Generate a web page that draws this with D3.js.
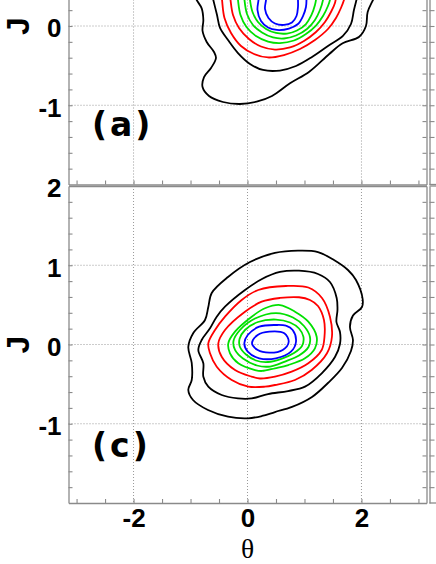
<!DOCTYPE html>
<html>
<head>
<meta charset="utf-8">
<script src="https://cdn.jsdelivr.net/npm/d3@7"></script>
<style>
  body { margin: 0; background: #fff; }
  svg { display: block; }
</style>
</head>
<body>
<div id="chart"></div>
<script>
// contour levels, outside in: 2 black, 2 red, 3 green, 2 blue
const levelColors = ['#000', '#000', '#f00', '#f00', '#00e000', '#00e000', '#00e000', '#00f', '#00f'];
const thetaLabels = [-2, 0, 2];
const jLabels = [-1, 0, 1, 2];
const gridTheta = [-2, 0, 2];
const gridJ = [-1, 0, 1];

// panel (a): only its lower half is in view, so the lines run out through the top
const aBlack1 = [[-0.956, 0.454], [-0.891, 0.328], [-0.804, 0.223], [-0.775, 0.076], [-0.789, -0.063], [-0.716, -0.202],
  [-0.588, -0.328], [-0.553, -0.404], [-0.640, -0.530], [-0.763, -0.644], [-0.789, -0.770], [-0.675, -0.883],
  [-0.430, -0.959], [-0.132, -0.984], [0.161, -0.955], [0.430, -0.883], [0.746, -0.723], [1.084, -0.577],
  [1.435, -0.353], [1.670, -0.218], [1.961, -0.135], [2.079, 0.000], [2.109, 0.177], [2.202, 0.328], [2.289, 0.454]];
const aBlack2 = [[-0.640, 0.454], [-0.600, 0.328], [-0.535, 0.139], [-0.482, -0.025], [-0.342, -0.177], [-0.167, -0.341],
  [0.044, -0.479], [0.272, -0.555], [0.570, -0.562], [0.851, -0.505], [1.132, -0.391], [1.412, -0.252],
  [1.675, -0.126], [1.816, 0.025], [1.868, 0.202], [1.921, 0.353], [1.956, 0.454]];
const aRed1 = [[-0.465, 0.454], [-0.447, 0.328], [-0.404, 0.101], [-0.289, -0.088], [-0.114, -0.252], [0.114, -0.353],
  [0.360, -0.397], [0.640, -0.366], [0.921, -0.290], [1.184, -0.177], [1.412, -0.038], [1.553, 0.101],
  [1.640, 0.227], [1.693, 0.328], [1.728, 0.454]];
const aRed2 = [[-0.316, 0.454], [-0.298, 0.328], [-0.254, 0.139], [-0.149, -0.025], [0.026, -0.164], [0.237, -0.259],
  [0.482, -0.297], [0.746, -0.271], [0.991, -0.189], [1.202, -0.076], [1.360, 0.050], [1.465, 0.177],
  [1.535, 0.290], [1.570, 0.454]];
const aGreen1 = [[-0.184, 0.454], [-0.167, 0.328], [-0.123, 0.139], [-0.018, -0.013], [0.149, -0.126], [0.360, -0.196],
  [0.570, -0.215], [0.816, -0.183], [1.026, -0.101], [1.202, 0.006], [1.325, 0.126], [1.412, 0.252],
  [1.447, 0.328], [1.465, 0.454]];
const aGreen2 = [[-0.061, 0.454], [-0.053, 0.328], [-0.009, 0.151], [0.096, 0.013], [0.254, -0.082], [0.447, -0.145],
  [0.640, -0.158], [0.851, -0.120], [1.044, -0.038], [1.184, 0.076], [1.272, 0.202], [1.325, 0.328], [1.342, 0.454]];
const aGreen3 = [[0.035, 0.454], [0.044, 0.328], [0.088, 0.177], [0.184, 0.050], [0.325, -0.038], [0.500, -0.088],
  [0.693, -0.095], [0.868, -0.057], [1.026, 0.025], [1.123, 0.139], [1.184, 0.265], [1.202, 0.328], [1.211, 0.454]];
const aBlue1 = [[0.202, 0.454], [0.193, 0.328], [0.175, 0.202], [0.237, 0.063], [0.360, -0.019], [0.518, -0.050],
  [0.728, -0.032], [0.886, 0.025], [0.974, 0.126], [1.026, 0.240], [1.035, 0.328], [1.026, 0.454]];
const aBlue2 = [[0.333, 0.454], [0.325, 0.328], [0.307, 0.215], [0.368, 0.101], [0.482, 0.032], [0.640, 0.013],
  [0.781, 0.044], [0.860, 0.126], [0.886, 0.240], [0.886, 0.328], [0.877, 0.454]];

// panel (c): closed contours
const cBlack1 = [[0.886, 1.184], [1.237, 1.167], [1.518, 1.066], [1.763, 0.940], [1.904, 0.814], [2.021, 0.574],
  [2.009, 0.473], [1.851, 0.366], [1.798, 0.221], [1.851, 0.057], [1.816, -0.082], [1.658, -0.297],
  [1.412, -0.486], [1.132, -0.662], [0.781, -0.788], [0.482, -0.852], [0.254, -0.902], [0.009, -0.931],
  [-0.342, -0.911], [-0.693, -0.826], [-0.956, -0.700], [-1.039, -0.574], [-0.979, -0.448], [-0.979, -0.233],
  [-1.039, -0.032], [-0.951, 0.145], [-0.746, 0.309], [-0.688, 0.473], [-0.628, 0.650], [-0.342, 0.852],
  [0.044, 1.041], [0.482, 1.155]];
const cBlack2 = [[0.904, 0.931], [1.237, 0.890], [1.447, 0.789], [1.565, 0.587], [1.579, 0.435], [1.561, 0.284],
  [1.623, 0.158], [1.623, 0.006], [1.535, -0.158], [1.307, -0.360], [1.009, -0.532], [0.711, -0.587],
  [0.360, -0.625], [0.074, -0.680], [-0.167, -0.680], [-0.453, -0.637], [-0.688, -0.532], [-0.775, -0.406],
  [-0.775, -0.237], [-0.863, -0.069], [-0.804, 0.057], [-0.658, 0.204], [-0.540, 0.351], [-0.395, 0.477],
  [-0.044, 0.688], [0.254, 0.826], [0.570, 0.915]];
const cRed1 = [[0.675, 0.738], [1.067, 0.719], [1.307, 0.587], [1.447, 0.351], [1.482, 0.098], [1.395, -0.111],
  [1.126, -0.322], [0.833, -0.448], [0.482, -0.511], [0.307, -0.532], [0.014, -0.532], [-0.277, -0.448],
  [-0.540, -0.280], [-0.658, -0.111], [-0.688, 0.015], [-0.570, 0.183], [-0.395, 0.351], [-0.102, 0.562],
  [0.189, 0.688]];
const cRed2 = [[0.904, 0.596], [1.096, 0.562], [1.237, 0.486], [1.342, 0.309], [1.351, 0.098], [1.302, -0.069],
  [1.067, -0.237], [0.775, -0.343], [0.482, -0.406], [0.219, -0.429], [0.074, -0.406], [-0.219, -0.322],
  [-0.453, -0.154], [-0.512, 0.015], [-0.395, 0.183], [-0.044, 0.414], [0.249, 0.540], [0.570, 0.587]];
const cGreen1 = [[0.570, 0.498], [0.833, 0.414], [1.067, 0.288], [1.214, 0.098], [1.184, -0.048], [1.009, -0.174],
  [0.716, -0.259], [0.482, -0.300], [0.254, -0.334], [0.132, -0.322], [-0.161, -0.237], [-0.307, -0.111],
  [-0.337, 0.015], [-0.219, 0.162], [0.074, 0.351], [0.307, 0.457]];
const cGreen2 = [[0.500, 0.397], [0.798, 0.341], [0.991, 0.233], [1.096, 0.095], [1.070, -0.032], [0.904, -0.139],
  [0.658, -0.215], [0.395, -0.278], [0.167, -0.265], [-0.079, -0.177], [-0.219, -0.069], [-0.246, 0.044],
  [-0.132, 0.183], [0.132, 0.328]];
const cGreen3 = [[0.500, 0.315], [0.746, 0.278], [0.904, 0.202], [0.982, 0.095], [0.956, -0.019], [0.816, -0.107],
  [0.605, -0.177], [0.360, -0.221], [0.149, -0.202], [-0.026, -0.126], [-0.132, -0.032], [-0.140, 0.069],
  [-0.044, 0.183], [0.184, 0.284]];
const cBlue1 = [[0.500, 0.246], [0.675, 0.237], [0.793, 0.183], [0.851, 0.035], [0.763, -0.091], [0.500, -0.174],
  [0.207, -0.174], [0.004, -0.091], [-0.056, 0.015], [0.004, 0.120], [0.207, 0.225]];
const cBlue2 = [[0.382, 0.162], [0.646, 0.141], [0.723, 0.035], [0.618, -0.069], [0.382, -0.103], [0.179, -0.069],
  [0.079, 0.015], [0.179, 0.120]];

const width = 436, height = 564;
const plotLeft = 68.5, plotRight = 426.5;
const axisColor = '#8a8a8a';
const tickFont = 'Liberation Sans, Arial, sans-serif';

const svg = d3.select('#chart').append('svg')
  .attr('width', width)
  .attr('height', height);

const x = d3.scaleLinear().domain([-Math.PI, Math.PI]).range([plotLeft, plotRight]);

const panels = [
  { top: -132.5, bottom: 184.5, label: '(a)', labelY: 136, closed: false, xLabels: false,
    lines: [aBlack1, aBlack2, aRed1, aRed2, aGreen1, aGreen2, aGreen3, aBlue1, aBlue2] },
  { top: 186, bottom: 503, label: '(c)', labelY: 457, closed: true, xLabels: true,
    lines: [cBlack1, cBlack2, cRed1, cRed2, cGreen1, cGreen2, cGreen3, cBlue1, cBlue2] },
];

const thetaTicks = d3.range(-3, 3.01, 0.5);
const jTicks = d3.range(-1.8, 1.81, 0.2).map(d => Math.round(d * 10) / 10);

const styleAxis = (g) => {
  g.select('.domain').attr('stroke', axisColor).attr('stroke-width', 1.3);
  g.selectAll('.tick line').attr('stroke', axisColor).attr('stroke-width', 1.1);
  g.selectAll('.tick text')
    .attr('fill', '#000')
    .attr('font-family', tickFont)
    .attr('font-weight', 'bold')
    .attr('font-size', 26);
};

panels.forEach((p, i) => {
  const y = d3.scaleLinear().domain([-2, 2]).range([p.bottom, p.top]);
  const g = svg.append('g');

  svg.append('clipPath').attr('id', 'clip' + i)
    .append('rect')
      .attr('x', plotLeft)
      .attr('y', p.top)
      .attr('width', plotRight - plotLeft)
      .attr('height', p.bottom - p.top);

  // dotted grid
  g.selectAll('.grid-x')
    .data(gridTheta)
  .enter().append('line')
    .attr('x1', d => x(d)).attr('x2', d => x(d))
    .attr('y1', p.top).attr('y2', p.bottom)
    .attr('stroke', '#999').attr('stroke-width', 1).attr('stroke-dasharray', '1,2');
  g.selectAll('.grid-y')
    .data(gridJ)
  .enter().append('line')
    .attr('x1', plotLeft).attr('x2', plotRight)
    .attr('y1', d => y(d)).attr('y2', d => y(d))
    .attr('stroke', '#999').attr('stroke-width', 1).attr('stroke-dasharray', '1,2');

  // contours
  const line = d3.line()
    .x(d => x(d[0]))
    .y(d => y(d[1]))
    .curve(p.closed ? d3.curveCatmullRomClosed.alpha(0.5) : d3.curveCatmullRom.alpha(0.5));

  g.append('g')
    .attr('clip-path', `url(#clip${i})`)
    .selectAll('path')
    .data(p.lines)
  .enter().append('path')
    .attr('d', line)
    .attr('fill', 'none')
    .attr('stroke', (d, k) => levelColors[k])
    .attr('stroke-width', 1.8)
    .attr('stroke-linejoin', 'round');

  // axes, ticks point inward; labels only where they fall inside the window
  g.append('g')
    .attr('transform', `translate(${plotLeft},0)`)
    .call(d3.axisLeft(y).tickValues(jTicks.concat([2])).tickSize(-4).tickSizeOuter(0).tickPadding(7)
      .tickFormat(d => (jLabels.includes(d) && y(d) > 10) ? d : ''))
    .call(styleAxis)
    .call(a => a.selectAll('.tick text').attr('dy', '0.42em'))
    .call(a => a.selectAll('.tick').filter(d => d === 2).select('line').remove());

  g.append('g')
    .attr('transform', `translate(${plotRight},0)`)
    .call(d3.axisRight(y).tickValues(jTicks).tickSize(-4).tickSizeOuter(0).tickFormat(''))
    .call(styleAxis);

  g.append('g')
    .attr('transform', `translate(0,${p.bottom})`)
    .call(d3.axisBottom(x).tickValues(thetaTicks).tickSize(-4).tickSizeOuter(0).tickPadding(6)
      .tickFormat(d => (p.xLabels && thetaLabels.includes(d)) ? d : ''))
    .call(styleAxis);

  g.append('g')
    .attr('transform', `translate(0,${p.top})`)
    .call(d3.axisTop(x).tickValues([]).tickSizeOuter(0))
    .call(styleAxis);

  // J axis title
  g.append('text')
    .attr('transform', `translate(29,${y(0)}) rotate(-90)`)
    .attr('text-anchor', 'middle')
    .attr('font-family', tickFont)
    .attr('font-weight', 'bold')
    .attr('font-size', 32)
    .text('J');

  // panel tag
  g.append('text')
    .attr('x', 92)
    .attr('y', p.labelY)
    .attr('font-family', 'DejaVu Sans, sans-serif')
    .attr('font-weight', 'bold')
    .attr('font-size', 33)
    .attr('letter-spacing', 3)
    .text(p.label);

  // left edge of the neighbouring panel, cut by the window
  const n = svg.append('g').attr('transform', 'translate(429.5,0)');
  n.call(d3.axisRight(y).tickValues(jTicks).tickSize(5).tickSizeOuter(0).tickFormat(''))
    .call(styleAxis);
  n.append('line')
    .attr('x1', 0).attr('x2', 10)
    .attr('y1', p.top).attr('y2', p.top)
    .attr('stroke', axisColor).attr('stroke-width', 1.3);
  n.append('line')
    .attr('x1', 0).attr('x2', 10)
    .attr('y1', p.bottom).attr('y2', p.bottom)
    .attr('stroke', axisColor).attr('stroke-width', 1.3);
});

svg.append('text')
  .attr('x', x(0))
  .attr('y', 557.8)
  .attr('text-anchor', 'middle')
  .attr('font-family', 'Liberation Serif, Times New Roman, serif')
  .attr('font-size', 27.5)
  .text('θ');
</script>
</body>
</html>
